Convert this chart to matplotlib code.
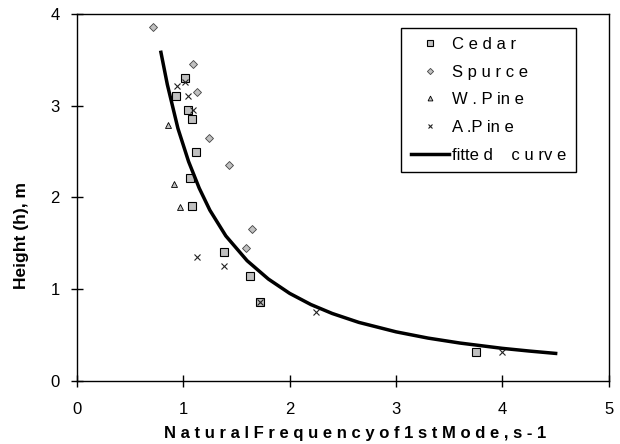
import matplotlib
matplotlib.use("Agg")
import matplotlib.pyplot as plt

plt.rcParams["font.family"] = ["Liberation Sans", "DejaVu Sans"]

# ---- data ----
cedar_f = [1.02, 0.93, 1.04, 1.08, 1.12, 1.06, 1.08, 1.38, 1.63, 1.72, 3.75]
cedar_h = [3.30, 3.10, 2.95, 2.85, 2.49, 2.21, 1.91, 1.40, 1.14, 0.86, 0.31]

spruce_f = [0.72, 1.09, 1.13, 1.24, 1.43, 1.65, 1.59]
spruce_h = [3.86, 3.45, 3.15, 2.65, 2.35, 1.65, 1.45]

wpine_f = [0.86, 0.91, 0.97]
wpine_h = [2.79, 2.15, 1.90]

apine_f = [0.94, 1.02, 1.045, 1.09, 1.13, 1.38, 1.72, 2.25, 4.00]
apine_h = [3.21, 3.26, 3.10, 2.95, 1.35, 1.25, 0.86, 0.75, 0.31]

fit_f = [0.79, 0.85, 0.95, 1.05, 1.15, 1.25, 1.40, 1.60, 1.80, 2.00,
         2.20, 2.40, 2.65, 3.00, 3.30, 3.60, 4.00, 4.25, 4.50]
fit_h = [3.58, 3.23, 2.75, 2.39, 2.10, 1.86, 1.58, 1.31, 1.11, 0.954,
         0.832, 0.735, 0.638, 0.535, 0.467, 0.413, 0.355, 0.326, 0.300]

legend_labels = ["C e d a r", "S p u r c e", "W . P in e", "A .P in e", "fitte d    c u rv e"]

DPI = 100
fig = plt.figure(figsize=(620 / DPI, 444 / DPI), dpi=DPI, facecolor="white")
ax = fig.add_axes([0.124, 0.142, 0.858, 0.827])

grey = "#c0c0c0"
ax.plot(cedar_f, cedar_h, ls="none", marker="s", ms=6, mfc=grey, mec="black", mew=0.8,
        label=legend_labels[0])
ax.plot(spruce_f, spruce_h, ls="none", marker="D", ms=4.5, mfc=grey, mec="#444444", mew=0.6,
        label=legend_labels[1])
ax.plot(wpine_f, wpine_h, ls="none", marker="^", ms=5, mfc=grey, mec="black", mew=0.6,
        label=legend_labels[2])
ax.plot(apine_f, apine_h, ls="none", marker="x", ms=5, color="#222222", mew=0.8,
        label=legend_labels[3])
ax.plot(fit_f, fit_h, color="black", lw=2.5, label=legend_labels[4])

ax.set_xlim(0, 5)
ax.set_ylim(0, 4)
ax.set_xticks([0, 1, 2, 3, 4, 5])
ax.set_yticks([0, 1, 2, 3, 4])
ax.tick_params(direction="inout", length=9, width=1, labelsize=12)
ax.tick_params(axis="x", pad=11)
ax.tick_params(axis="y", pad=8)
for s in ax.spines.values():
    s.set_linewidth(1)

ax.set_xlabel("N a t u r a l F r e q u e n c y o f 1 s t M o d e , s - 1",
              fontsize=12, fontweight="bold")
ax.xaxis.set_label_coords(0.523, -0.122)
ax.set_ylabel("Height (h), m", fontsize=12.5, fontweight="bold")
ax.yaxis.set_label_coords(-0.090, 0.397)

leg = ax.legend(loc="upper left", bbox_to_anchor=(0.610, 0.962), fontsize=12,
                frameon=True, fancybox=False, edgecolor="black", framealpha=1,
                handlelength=2.3, labelspacing=0.76, borderpad=0.55, borderaxespad=0,
                handletextpad=0.2, markerscale=0.7)
leg.get_frame().set_linewidth(1)

fig.savefig("out.png", dpi=DPI)
